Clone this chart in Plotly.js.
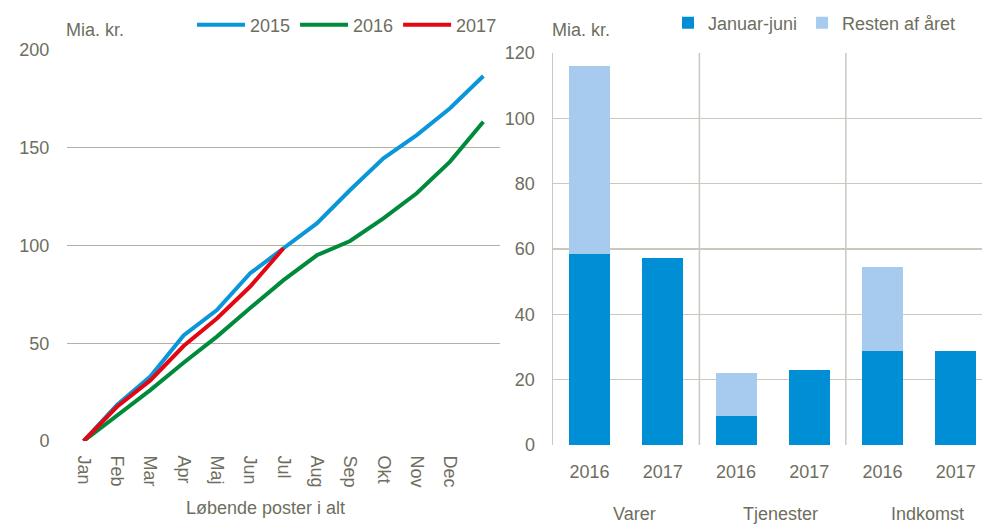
<!DOCTYPE html>
<html>
<head>
<meta charset="utf-8">
<script src="https://cdn.plot.ly/plotly-3.0.1.min.js"></script>
<style>body{margin:0;padding:0;background:#fff}#chart{width:982px;height:525px}</style>
</head>
<body>
<div id="chart"></div>
<script>
// Left chart: cumulative current account (Løbende poster i alt), bn. DKK
const months = ["Jan","Feb","Mar","Apr","Maj","Jun","Jul","Aug","Sep","Okt","Nov","Dec",""];
const s2015 = [0, 18.4, 33, 54, 67, 85.8, 98.6, 111.3, 128.4, 144.6, 156.5, 170.2, 186.7];
const s2016 = [0, 13.3, 26, 40, 53.4, 68, 82.3, 95, 102.3, 113.9, 126.7, 142.9, 163.3];
const s2017 = [0, 17.5, 31, 48.6, 62.7, 79, 98.6];

// Right chart: stacked bars
const groups = ["Varer","Varer","Tjenester","Tjenester","Indkomst","Indkomst"];
const years = ["2016","2017","2016","2017","2016","2017"];
const janJun = [58.5, 57.2, 8.9, 23, 28.8, 28.8];
const rest = [57.5, 0, 13.1, 0, 25.7, 0];
const groupNames = ["Varer","Tjenester","Indkomst"];

const FONT = '"Liberation Sans", Arial, sans-serif';
const TXT = '#6e6e60';
const FS = 18;

const idx = months.map((_, i) => i);
const barX = years.map((_, i) => i);

const traces = [
  {x: idx.slice(0, s2015.length), y: s2015, type: 'scatter', mode: 'lines', name: '2015',
   line: {color: '#0a96d8', width: 4}, xaxis: 'x', yaxis: 'y', legend: 'legend'},
  {x: idx.slice(0, s2016.length), y: s2016, type: 'scatter', mode: 'lines', name: '2016',
   line: {color: '#008a3c', width: 4}, xaxis: 'x', yaxis: 'y', legend: 'legend'},
  {x: idx.slice(0, s2017.length), y: s2017, type: 'scatter', mode: 'lines', name: '2017',
   line: {color: '#e30613', width: 4}, xaxis: 'x', yaxis: 'y', legend: 'legend'},
  {x: barX, y: janJun, type: 'bar', name: 'Januar-juni', marker: {color: '#008fd4'},
   xaxis: 'x2', yaxis: 'y2', legend: 'legend2'},
  {x: barX, y: rest, type: 'bar', name: 'Resten af året', marker: {color: '#a6cbee'},
   xaxis: 'x2', yaxis: 'y2', legend: 'legend2'}
];

const W = 982, H = 525;
const px = v => v / W, py = v => 1 - v / H;

const annotations = [
  {text: 'Mia. kr.', xref: 'paper', yref: 'paper', x: px(64), y: py(30), xanchor: 'left', yanchor: 'middle', showarrow: false, font: {family: FONT, size: FS, color: TXT}},
  {text: 'Mia. kr.', xref: 'paper', yref: 'paper', x: px(550), y: py(30), xanchor: 'left', yanchor: 'middle', showarrow: false, font: {family: FONT, size: FS, color: TXT}},
  {text: 'Løbende poster i alt', xref: 'paper', yref: 'paper', x: px(265), y: py(508), xanchor: 'center', yanchor: 'middle', showarrow: false, font: {family: FONT, size: FS, color: TXT}}
];
groupNames.forEach((g, i) => {
  annotations.push({text: g, xref: 'x2', yref: 'paper', x: 2 * i + 0.5, y: py(514), xshift: 8, xanchor: 'center', yanchor: 'middle', showarrow: false, font: {family: FONT, size: FS, color: TXT}});
});

const shapes = [1.5, 3.5].map(v => ({type: 'line', xref: 'x2', yref: 'y2', x0: v, x1: v, y0: 0, y1: 120, line: {color: '#c9c9c0', width: 1.5}, layer: 'below'}));

const layout = {
  width: W, height: H,
  margin: {l: 0, r: 0, t: 0, b: 0, autoexpand: false},
  paper_bgcolor: '#fff', plot_bgcolor: 'rgba(0,0,0,0)',
  font: {family: FONT, color: TXT, size: FS},
  showlegend: true,
  barmode: 'stack', bargap: 0.44,
  xaxis: {domain: [px(67), px(500)], range: [-0.5, 12.5], tickvals: idx.slice(0, 12), ticktext: months.slice(0, 12),
    tickangle: 90, showgrid: false, zeroline: false, showline: false, ticks: 'outside', ticklen: 10, tickcolor: 'rgba(0,0,0,0)',
    tickfont: {size: FS, color: TXT}, automargin: false},
  yaxis: {domain: [py(441), py(50)], range: [0, 200], dtick: 50, showgrid: true, gridcolor: '#b3b1a4', gridwidth: 1.2,
    zeroline: false, showline: false, ticks: 'outside', ticklen: 13, tickcolor: 'rgba(0,0,0,0)', tickfont: {size: FS, color: TXT}, automargin: false},
  xaxis2: {domain: [px(553), 1], range: [-0.5, 5.36], tickvals: barX, ticktext: years, showgrid: false, zeroline: false,
    showline: false, ticks: 'outside', ticklen: 10, tickcolor: 'rgba(0,0,0,0)', tickfont: {size: FS, color: TXT}, anchor: 'y2', automargin: false},
  yaxis2: {domain: [py(445), py(53)], range: [0, 120], dtick: 20, showgrid: true, gridcolor: '#c9c9c0', gridwidth: 1.5,
    zeroline: false, showline: true, linecolor: '#c9c9c0', linewidth: 1.5, ticks: 'outside', ticklen: 13, tickcolor: 'rgba(0,0,0,0)',
    tickfont: {size: FS, color: TXT}, anchor: 'x2', automargin: false},
  legend: {orientation: 'h', x: px(192), y: py(25), xanchor: 'left', yanchor: 'middle', bgcolor: 'rgba(0,0,0,0)',
    font: {family: FONT, size: FS, color: TXT}, itemwidth: 48},
  legend2: {orientation: 'h', x: px(668), y: py(23), xanchor: 'left', yanchor: 'middle', bgcolor: 'rgba(0,0,0,0)',
    font: {family: FONT, size: FS, color: TXT}, itemwidth: 30, traceorder: 'normal'},
  annotations: annotations,
  shapes: shapes
};

Plotly.newPlot('chart', traces, layout, {displayModeBar: false, staticPlot: true});
</script>
</body>
</html>
